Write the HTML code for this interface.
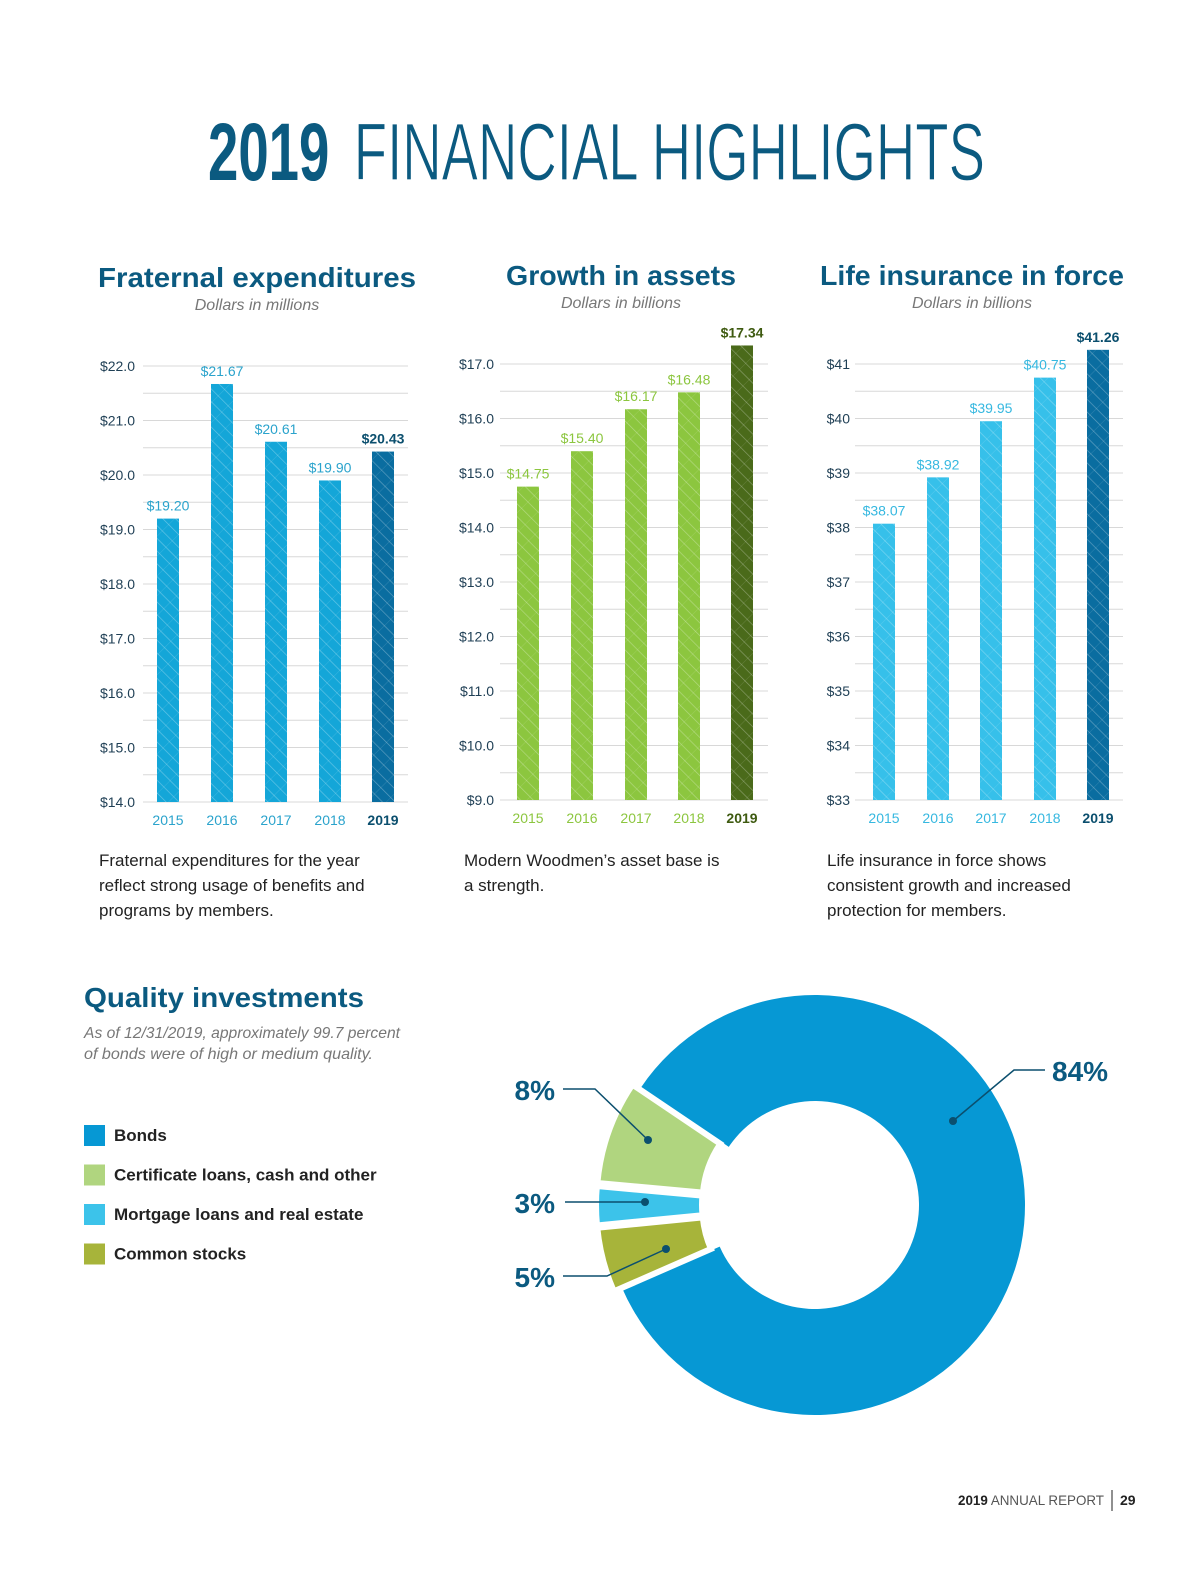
<!DOCTYPE html>
<html><head><meta charset="utf-8"><style>
html,body{margin:0;padding:0;background:#fff;}
svg{display:block;font-family:"Liberation Sans",sans-serif;}
</style></head><body>
<svg id="page" width="1200" height="1573" viewBox="0 0 1200 1573" xmlns="http://www.w3.org/2000/svg">
<defs>
<pattern id="hatch" width="9" height="9" patternUnits="userSpaceOnUse" patternTransform="rotate(-45)">
<line x1="0" y1="0" x2="0" y2="9" stroke="#ffffff" stroke-opacity="0.35" stroke-width="1.3"/>
</pattern>
<pattern id="hatch2" width="14" height="14" patternUnits="userSpaceOnUse" patternTransform="rotate(45)">
<line x1="0" y1="0" x2="0" y2="14" stroke="#ffffff" stroke-opacity="0.15" stroke-width="1"/>
</pattern>
</defs>
<g>
<text x="208" y="180" font-size="82" fill="#0b5a80" textLength="777" lengthAdjust="spacingAndGlyphs"><tspan font-weight="bold">2019</tspan><tspan dx="14" stroke="#fff" stroke-width="1.2"> FINANCIAL HIGHLIGHTS</tspan></text>
</g>
<g id="charts"></g>
<g font-size="17" fill="#222">
<text x="99" y="866">Fraternal expenditures for the year</text>
<text x="99" y="891">reflect strong usage of benefits and</text>
<text x="99" y="916">programs by members.</text>
<text x="464" y="866">Modern Woodmen’s asset base is</text>
<text x="464" y="891">a strength.</text>
<text x="827" y="866">Life insurance in force shows</text>
<text x="827" y="891">consistent growth and increased</text>
<text x="827" y="916">protection for members.</text>
</g>
<g>
<text x="84" y="1007" font-size="28" font-weight="bold" fill="#0b5a80" textLength="280" lengthAdjust="spacingAndGlyphs">Quality investments</text>
<text x="84" y="1038" font-size="16" font-style="italic" fill="#777" textLength="316" lengthAdjust="spacingAndGlyphs">As of 12/31/2019, approximately 99.7 percent</text>
<text x="84" y="1059" font-size="16" font-style="italic" fill="#777" textLength="289" lengthAdjust="spacingAndGlyphs">of bonds were of high or medium quality.</text>
</g>
<g id="legend"></g>
<g id="donut"></g>
<g>
<text x="958" y="1505" font-size="14" fill="#222" textLength="146" lengthAdjust="spacingAndGlyphs"><tspan font-weight="bold">2019</tspan> <tspan fill="#555">ANNUAL REPORT</tspan></text>
<line x1="1112" y1="1490" x2="1112" y2="1511" stroke="#222" stroke-width="1"/>
<text x="1120" y="1505" font-size="14" font-weight="bold" fill="#222">29</text>
</g>
</svg>
<script>
const NS="http://www.w3.org/2000/svg";
const years=["2015","2016","2017","2018","2019"];
const fratValues=[19.20,21.67,20.61,19.90,20.43];
const fratLabels=["$19.20","$21.67","$20.61","$19.90","$20.43"];
const fratTicks=["$14.0","$15.0","$16.0","$17.0","$18.0","$19.0","$20.0","$21.0","$22.0"];
const assetValues=[14.75,15.40,16.17,16.48,17.34];
const assetLabels=["$14.75","$15.40","$16.17","$16.48","$17.34"];
const assetTicks=["$9.0","$10.0","$11.0","$12.0","$13.0","$14.0","$15.0","$16.0","$17.0"];
const lifeValues=[38.07,38.92,39.95,40.75,41.26];
const lifeLabels=["$38.07","$38.92","$39.95","$40.75","$41.26"];
const lifeTicks=["$33","$34","$35","$36","$37","$38","$39","$40","$41"];
const pieLabels=["Bonds","Certificate loans, cash and other","Mortgage loans and real estate","Common stocks"];
const pieValues=[84,8,3,5];

function mk(tag,attrs,parent){const e=document.createElementNS(NS,tag);for(const k in attrs)e.setAttribute(k,attrs[k]);parent.appendChild(e);return e;}

const chartsG=document.getElementById('charts');
const charts=[
 {name:'fraternal-expenditures',title:'Fraternal expenditures',sub:'Dollars in millions',tx:257,ty:287,sy:310,min:14,max:22,vals:fratValues,labs:fratLabels,ticks:fratTicks,x0:143,x1:408,tickX:135,bx:[168,222,276,330,383],col:'#14a6d8',last:'#0a6da0',labCol:'#2aa3cc',lastLab:'#0b4f6e',yearCol:'#2aa3cc',top:366,bottom:802,tw:318},
 {name:'growth-in-assets',title:'Growth in assets',sub:'Dollars in billions',tx:621,ty:285,sy:308,min:9,max:17,vals:assetValues,labs:assetLabels,ticks:assetTicks,x0:500,x1:768,tickX:494,bx:[528,582,636,689,742],col:'#8cc63f',last:'#4a6a1a',labCol:'#8cc63f',lastLab:'#3e5a10',yearCol:'#8cc63f',top:364,bottom:800,tw:230},
 {name:'life-insurance-in-force',title:'Life insurance in force',sub:'Dollars in billions',tx:972,ty:285,sy:308,min:33,max:41,vals:lifeValues,labs:lifeLabels,ticks:lifeTicks,x0:855,x1:1123,tickX:850,bx:[884,938,991,1045,1098],col:'#36c0ea',last:'#0a6da0',labCol:'#36b8e0',lastLab:'#0b4f6e',yearCol:'#36b8e0',top:364,bottom:800,tw:304}
];
charts.forEach(c=>{
 const g=mk('g',{},chartsG);
 
 
 const t=mk('text',{x:c.tx,y:c.ty,'text-anchor':'middle','font-size':28,'font-weight':'bold',fill:'#0b5a80',textLength:c.tw,lengthAdjust:'spacingAndGlyphs'},g);t.textContent=c.title;
 
 
 const s=mk('text',{x:c.tx,y:c.sy,'text-anchor':'middle','font-size':16,'font-style':'italic',fill:'#777'},g);s.textContent=c.sub;
 
 
 const y=v=>c.bottom-(v-c.min)/(c.max-c.min)*(c.bottom-c.top);
 for(let v=c.min;v<=c.max+1e-9;v+=0.5){
  const l=mk('line',{x1:c.x0,x2:c.x1,y1:y(v),y2:y(v),stroke:'#d8d8d8','stroke-width':1},g);
  
  
 }
 c.ticks.forEach((tk,i)=>{
  const e=mk('text',{x:c.tickX,y:y(c.min+i)+5,'text-anchor':'end','font-size':14,fill:'#1f3f55'},g);e.textContent=tk;
  
  
 });
 c.vals.forEach((v,i)=>{
  const last=i===c.vals.length-1, w=22, x=c.bx[i]-w/2;
  const b=mk('rect',{x:x,y:y(v),width:w,height:c.bottom-y(v),fill:last?c.last:c.col},g);
  
  
  const h=mk('rect',{x:x,y:y(v),width:w,height:c.bottom-y(v),fill:'url(#hatch)'},g);
  
  
  const h2=mk('rect',{x:x,y:y(v),width:w,height:c.bottom-y(v),fill:'url(#hatch2)'},g);
  
  
  const lb=mk('text',{x:c.bx[i],y:y(v)-8,'text-anchor':'middle','font-size':14,fill:last?c.lastLab:c.labCol,'font-weight':last?'bold':'normal'},g);lb.textContent=c.labs[i];
  
  
  const yr=mk('text',{x:c.bx[i],y:c.bottom+23,'text-anchor':'middle','font-size':14,fill:last?c.lastLab:c.yearCol,'font-weight':last?'bold':'normal'},g);yr.textContent=years[i];
  
  
 });
});

// legend
const pieColors=['#0698d4','#b0d57f','#3cc3ea','#a7b43a'];
const lg=document.getElementById('legend');
pieLabels.forEach((l,i)=>{
 const r=mk('rect',{x:84,y:1125+i*39.5,width:21,height:21,fill:pieColors[i]},lg);
 
 
 const t=mk('text',{x:114,y:1141+i*39.5,'font-size':17,'font-weight':'bold',fill:'#222'},lg);t.textContent=l;
 
 
});

// donut
const dg=document.getElementById('donut');
const cx=815,cy=1205,R=210,r0=104;
const total=pieValues.reduce((a,b)=>a+b,0);
const order=[0,3,2,1];
const pt=(a,rad,off)=>{const t=a*Math.PI/180;return [cx+off[0]+rad*Math.sin(t),cy+off[1]-rad*Math.cos(t)];};
let a0=304;
const segs={};
order.forEach(idx=>{const sweep=pieValues[idx]/total*360;segs[idx]=[a0,a0+sweep];a0+=sweep;});
const labelTxt=pieValues.map(v=>v+'%');
order.forEach(idx=>{
 const [s,e]=segs[idx];const mid=(s+e)/2;const ex=idx===0?0:9;
 const mt=mid*Math.PI/180;const off=[ex*Math.sin(mt),-ex*Math.cos(mt)];
 const p1=pt(s,R,off),p2=pt(e,R,off),p3=pt(e,r0,off),p4=pt(s,r0,off);
 const large=(e-s)>180?1:0;
 const d=`M${p1[0]},${p1[1]} A${R},${R} 0 ${large} 1 ${p2[0]},${p2[1]} L${p3[0]},${p3[1]} A${r0},${r0} 0 ${large} 0 ${p4[0]},${p4[1]}Z`;
 const p=mk('path',{d:d,fill:pieColors[idx],stroke:'#fff','stroke-width':idx===0?0:6,'stroke-linejoin':'miter'},dg);
 
 
});
const lbls=[
 {idx:0,dot:[953,1121],elbow:[1014,1070],end:[1045,1070],tx:1052,ty:1081,anchor:'start'},
 {idx:1,dot:[648,1140],elbow:[595,1089],end:[563,1089],tx:555,ty:1100,anchor:'end'},
 {idx:2,dot:[645,1202],elbow:[600,1202],end:[565,1202],tx:555,ty:1213,anchor:'end'},
 {idx:3,dot:[666,1249],elbow:[607,1276],end:[563,1276],tx:555,ty:1287,anchor:'end'}
];
lbls.forEach(L=>{
 const pl=mk('polyline',{points:`${L.dot.join(',')} ${L.elbow.join(',')} ${L.end.join(',')}`,fill:'none',stroke:'#0b4f6e','stroke-width':1.5},dg);
 
 
 const c=mk('circle',{cx:L.dot[0],cy:L.dot[1],r:4,fill:'#0b4f6e'},dg);
 
 
 const t=mk('text',{x:L.tx,y:L.ty,'text-anchor':L.anchor,'font-size':28,'font-weight':'bold',fill:'#0b5a80'},dg);t.textContent=labelTxt[L.idx];
 
 
});
</script>
</body></html>
